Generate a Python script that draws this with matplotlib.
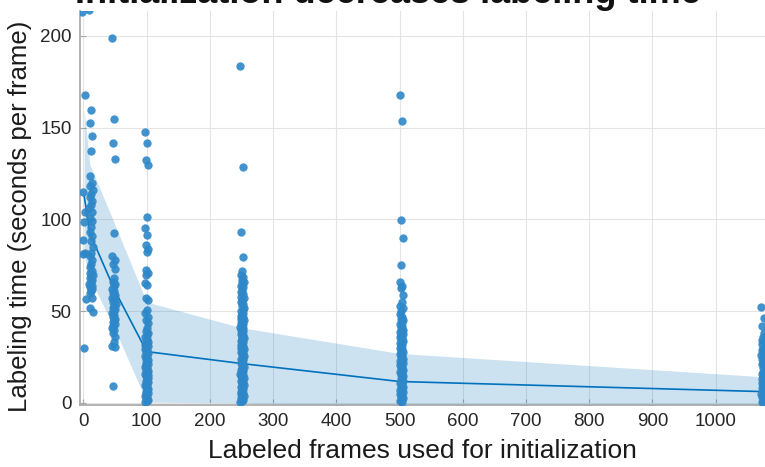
import numpy as np
import matplotlib.pyplot as plt

plt.rcParams['font.family'] = ['Liberation Sans', 'DejaVu Sans']

# group positions (labeled frames) and per-frame labeling times
group_x = [1, 12, 48, 100, 251, 503, 1075]
times_0 = [213, 168, 115, 104, 98.5, 89, 81.5, 81, 56.5, 29.8]
times_10 = [214, 159.5, 152.6, 145.5, 137.5, 123.7, 120, 118, 116, 114, 112, 110,
            108, 106, 104, 101, 99, 96, 93, 91, 88, 85, 82, 80, 78, 76, 74, 72,
            71, 70, 69, 68, 67, 66, 65, 64, 63, 62, 61, 60, 57, 51.6, 49.5]
times_50 = [199, 155, 141.7, 132.8, 92.8, 80, 78, 76, 73, 68, 66, 65, 64, 62, 61,
            60, 59, 58, 57, 56, 55, 54, 53, 52, 51, 50, 49, 48, 47, 46, 45, 44,
            43, 42, 41, 40, 38, 36, 33, 31, 30.5, 9.2]
times_100 = [147.8, 141.9, 132.4, 129.7, 101.5, 95.2, 91.6, 86, 84, 82.5, 72.5,
             71, 69.8, 65.2, 64.5, 57, 56, 50.7, 49, 47, 45, 43.4, 41, 39, 38, 37,
             36, 35, 34, 33.2, 32.5, 31.7, 31, 30.2, 29.5, 28.7, 28, 27.2, 26.5,
             25.7, 25, 24.2, 23.5, 22.7, 22, 21.2, 20.5, 19.7, 19, 18.2, 17.5,
             16.7, 16, 15.2, 14.5, 13.7, 13, 12.2, 11.5, 10.7, 10, 9.2, 8.5, 7.7,
             7, 6.2, 5.5, 4.7, 4, 3.2, 2.5, 1.7, 1, 0.3]
times_250 = [183.7, 128.8, 93.4, 79.4, 72.1, 70, 68.8, 67, 66, 65.2, 64, 63, 61.6,
             60.5, 59.5, 58, 57, 56, 55, 54, 53, 52, 51, 50, 49, 48.2, 47.5, 46.7,
             46, 45.2, 44.5, 43.7, 43, 42.2, 41.5, 40.7, 40, 39.2, 38.5, 37.7, 37,
             36.2, 35.5, 34.7, 34, 33.2, 32.5, 31.7, 31, 30.2, 29.5, 28.7, 28,
             27.2, 26.5, 25.7, 25, 24.2, 23.5, 22.7, 22, 21.2, 20.5, 19.7, 19,
             18.2, 17.5, 16.7, 16, 15.2, 14.5, 13.7, 13, 12.2, 11.5, 10.7, 10, 9.2,
             8.5, 7.7, 7, 6.2, 5.5, 4.7, 4, 3.2, 2.5, 1.7, 1, 0.3]
times_500 = [168, 153.5, 99.7, 90, 75.2, 66, 64, 62.5, 58.9, 55, 53, 51.6, 50, 48.5,
             47, 46, 45, 44, 43, 42, 41, 40, 39.2, 38.5, 37.7, 37, 36.2, 35.5,
             34.7, 34, 33.2, 32.5, 31.7, 31, 30.2, 29.5, 28.7, 28, 27.2, 26.5,
             25.7, 25, 24.2, 23.5, 22.7, 22, 21.2, 20.5, 19.7, 19, 18.2, 17.5,
             16.7, 16, 15.2, 14.5, 13.7, 13, 12.2, 11.5, 10.7, 10, 9.2, 8.5, 7.7,
             7, 6.2, 5.5, 4.7, 4, 3.2, 2.5, 1.7, 1, 0.3]
times_all = [52.5, 46.2, 42, 38, 36, 34.3, 33, 32, 31, 30, 29, 28, 27, 26, 25, 24,
             23, 22, 21, 20, 19, 18, 17, 16, 15, 14, 13, 12, 11, 10, 9, 8, 7, 6, 5,
             4, 3, 2, 1, 0.3]
all_times = [times_0, times_10, times_50, times_100, times_250, times_500, times_all]

# mean curve and shaded band
mean_x = [1, 10, 50, 100, 250, 500, 1075]
mean_y = [113, 92.5, 61, 28, 21.5, 11.7, 6.2]
band_hi = [160, 130, 97, 55, 41, 27, 14.3]
band_lo = [80, 68, 40, 0.5, 0, -3.6, -2]

blue = '#0072BD'
dot = '#2d87c8'

fig = plt.figure(figsize=(7.65, 4.67), dpi=100)
ax = fig.add_axes([80 / 765, 62 / 467, 685 / 765, 394 / 467])

ax.fill_between(mean_x, band_lo, band_hi, color=blue, alpha=0.2, linewidth=0, zorder=1)
ax.plot(mean_x, mean_y, color=blue, linewidth=1.2, zorder=2)

for gx, ys in zip(group_x, all_times):
    n = len(ys)
    jit = [2.8 * (((i * 0.618034) % 1) * 2 - 1) for i in range(n)]
    xs = [gx + j for j in jit]
    ax.scatter(xs, ys, s=36, color=dot, alpha=0.9, linewidths=0, zorder=3)

ax.set_xlim(-5.5, 1078)
ax.set_ylim(-1.1, 213.6)
ax.set_xticks(range(0, 1001, 100))
ax.set_yticks([0, 50, 100, 150, 200])

ax.grid(True, color='#e4e4e4', linewidth=0.8)
ax.set_axisbelow(True)
for side in ['top', 'right']:
    ax.spines[side].set_visible(False)
for side in ['left', 'bottom']:
    ax.spines[side].set_color('#a6a6a6')
    ax.spines[side].set_linewidth(1.2)
ax.tick_params(direction='in', length=4, color='#a6a6a6', labelsize=13.5,
               labelcolor='#262626', pad=6)

ax.set_xlabel('Labeled frames used for initialization', fontsize=19, color='#1a1a1a',
              labelpad=6)
ax.set_ylabel('Labeling time (seconds per frame)', fontsize=18.5, color='#1a1a1a')
ax.yaxis.set_label_coords(-0.07, 0.48)

fig.text(388 / 765, 1 - 3 / 467, 'Initialization decreases labeling time',
         ha='center', va='baseline', fontsize=26, fontweight='bold', color='#111111')

fig.savefig('out.png', dpi=100)
